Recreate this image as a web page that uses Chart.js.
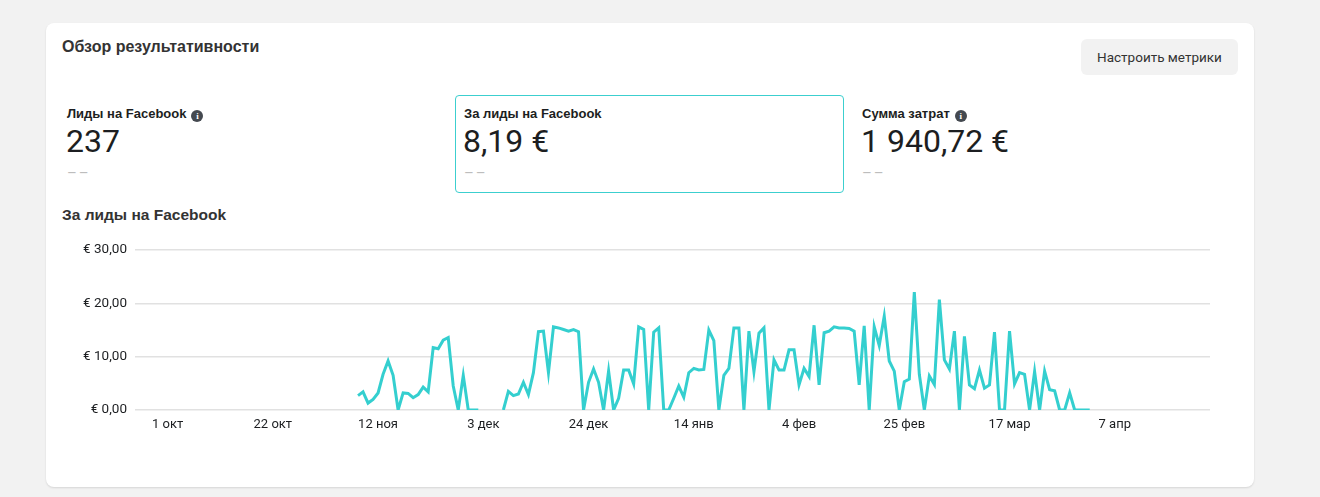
<!DOCTYPE html>
<html lang="ru">
<head>
<meta charset="utf-8">
<title>Обзор результативности</title>
<script src="https://cdn.jsdelivr.net/npm/chart.js@4/dist/chart.umd.min.js"></script>
<style>
  html, body { margin: 0; padding: 0; }
  body { width: 1320px; height: 497px; background: #f2f2f2; position: relative; overflow: hidden; font-family: Roboto, "Liberation Sans", sans-serif; color: #1c1e21; }
  .card { position: absolute; left: 46px; top: 23px; width: 1208px; height: 464px; background: #fff; border-radius: 8px; box-shadow: 0 1px 2px rgba(0,0,0,0.12); }
  .abs { position: absolute; white-space: nowrap; }
  .h { font-family: "Liberation Sans", Arial, sans-serif; font-weight: bold; color: #333; }
  .btn { left: 1035px; top: 16px; width: 157px; height: 36px; background: #f2f2f2; border-radius: 6px; font-size: 13.5px; line-height: 36px; text-align: center; color: #333; }
  .box { top: 72px; width: 387px; height: 96px; border: 1px solid #3ccfcf; border-radius: 4px; }
  .lbl { font-family: "Liberation Sans", Arial, sans-serif; font-weight: bold; font-size: 13px; color: #1c1e21; }
  .info { display: inline-block; width: 12px; height: 12px; border-radius: 50%; background: #444950; color: #fff; font-size: 9px; line-height: 12px; text-align: center; vertical-align: -1px; margin-left: 5px; font-family: "Liberation Serif", serif; font-weight: bold; }
  .val { font-size: 32px; font-weight: 400; color: #1c1e21; }
  .dash { font-size: 15px; color: #bdbdbd; letter-spacing: 2px; }
  #wrap { position: absolute; left: 60px; top: 234px; width: 1150px; height: 206px; }
</style>
</head>
<body>
<div class="card">
  <div class="abs h" style="left:16px; top:15px; font-size:16px;">Обзор результативности</div>
  <div class="abs btn">Настроить метрики</div>

  <div class="abs lbl" style="left:21px; top:83px;">Лиды на Facebook<span class="info">i</span></div>
  <div class="abs val" style="left:20px; top:99px;">237</div>
  <div class="abs dash" style="left:21px; top:141px;">––</div>

  <div class="abs box" style="left:409px;"></div>
  <div class="abs lbl" style="left:418px; top:83px;">За лиды на Facebook</div>
  <div class="abs val" style="left:417px; top:99px;">8,19 €</div>
  <div class="abs dash" style="left:418px; top:141px;">––</div>

  <div class="abs lbl" style="left:816px; top:83px;">Сумма затрат<span class="info">i</span></div>
  <div class="abs val" style="left:815px; top:99px;">1 940,72 €</div>
  <div class="abs dash" style="left:816px; top:141px;">––</div>

  <div class="abs h" style="left:16px; top:183px; font-size:15.5px;">За лиды на Facebook</div>
</div>
<div id="wrap"><canvas id="chart"></canvas></div>

<script>
// days are counted from 1 Oct 2023
const firstDataDay = 38; // 8 ноя

const costPerLead = [
  2.7, 3.4, 1.3, 2.0, 3.2, 6.7, 9.2, 6.5, 0, 3.2,
  3.1, 2.3, 2.9, 4.3, 3.4, 11.7, 11.5, 13.1, 13.6, 4.5,
  0, 6.5, 0, 0, 0, null, null, null, null, 0,
  3.5, 2.7, 3.0, 5.2, 2.9, 7.0, 14.7, 14.8, 7.0, 15.6,
  15.4, 15.1, 14.8, 15.1, 14.7, 0, 5.2, 7.7, 5.2, 0,
  7.3, 0, 2.2, 7.5, 7.5, 4.9, 15.6, 15.1, 0, 14.6,
  15.4, 0, 0, 2.2, 4.5, 2.4, 7.0, 7.8, 7.5, 7.6,
  15.0, 13.0, 0, 6.5, 7.8, 15.4, 15.4, 0, 14.8, 7.2,
  14.4, 15.4, 0, 9.4, 7.5, 7.5, 11.3, 11.3, 4.7, 7.8,
  6.3, 15.9, 4.7, 14.5, 14.8, 15.6, 15.4, 15.4, 15.3, 14.8,
  4.7, 15.8, 0, 15.6, 12.1, 17.6, 9.2, 7.3, 0, 5.3,
  5.8, 22.1, 6.7, 0, 6.4, 4.8, 20.7, 9.4, 7.7, 14.8,
  0, 13.8, 4.7, 4.0, 7.5, 4.1, 4.7, 14.6, 0, 0,
  14.8, 4.9, 7.0, 6.7, 0, 7.2, 0, 7.3, 3.8, 3.6,
  0, 0, 3.2, 0, 0, 0, 0
];

const tickDays = [0, 21, 42, 63, 84, 105, 126, 147, 168, 189];
const tickLabels = ["1 окт", "22 окт", "12 ноя", "3 дек", "24 дек", "14 янв", "4 фев", "25 фев", "17 мар", "7 апр"];

const xMin = -6.5;
const xMax = 208;

const points = costPerLead.map((v, i) => ({ x: firstDataDay + i, y: v }));

new Chart(document.getElementById("chart"), {
  type: "line",
  data: {
    datasets: [{
      label: "За лиды на Facebook",
      data: points,
      borderColor: "#34cfcf",
      borderWidth: 3,
      pointRadius: 0,
      tension: 0,
      spanGaps: false
    }]
  },
  options: {
    responsive: true,
    maintainAspectRatio: false,
    animation: false,
    layout: { padding: { top: 10, right: 0, left: 0, bottom: 0 } },
    plugins: { legend: { display: false }, tooltip: { enabled: false } },
    scales: {
      x: {
        type: "linear",
        min: xMin,
        max: xMax,
        grid: { display: false, drawTicks: false },
        border: { display: false },
        afterBuildTicks: scale => { scale.ticks = tickDays.map(d => ({ value: d })); },
        afterFit: scale => { scale.height = 30; },
        ticks: {
          autoSkip: false,
          maxRotation: 0,
          padding: 7,
          color: "#1c1e21",
          font: { family: "Roboto", size: 13 },
          callback: (v, i) => tickLabels[i]
        }
      },
      y: {
        min: 0,
        max: 30,
        grid: { color: "#e1e1e1", lineWidth: 1.5, drawTicks: false },
        border: { display: false },
        afterFit: scale => { scale.width = 75; },
        ticks: {
          stepSize: 10,
          padding: 8,
          color: "#1c1e21",
          font: { family: "Roboto", size: 13.5 },
          callback: v => "€ " + v.toFixed(2).replace(".", ",")
        }
      }
    }
  }
});
</script>
</body>
</html>
